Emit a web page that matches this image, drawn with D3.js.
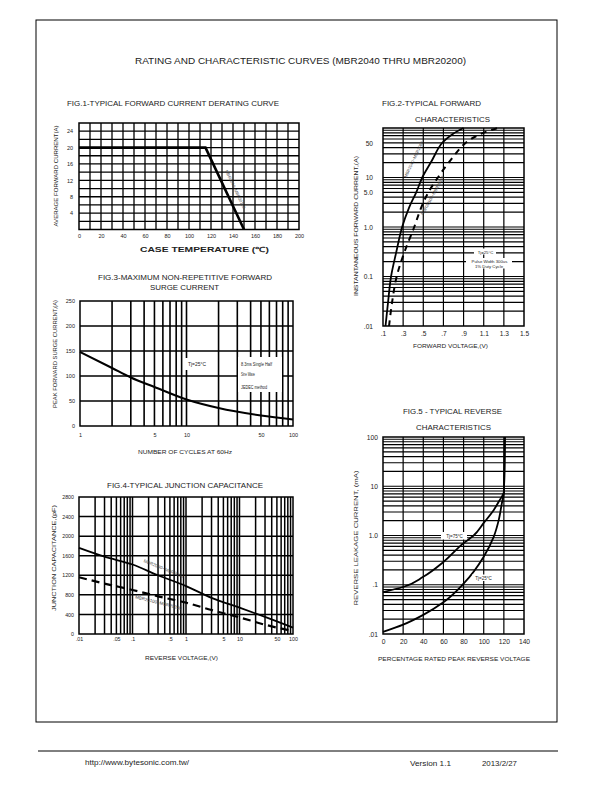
<!DOCTYPE html>
<html><head><meta charset="utf-8">
<script src="https://cdn.jsdelivr.net/npm/d3@7"></script>
<style>
html,body{margin:0;padding:0;background:#fff;}
svg{display:block;font-family:"Liberation Sans",Arial,sans-serif;}
</style></head><body>
<svg id="page" width="612" height="792"></svg>
<script>
// ---------------- DATA ----------------
// Fig.1 derating
const fig1Temp = [0, 115, 150];
const fig1Current = [20, 20, 0];
const fig1XTicks = [0,20,40,60,80,100,120,140,160,180,200];
const fig1YTicks = [4,8,12,16,20,24];
// Fig.2 forward characteristics
const fig2VoltA = [0.125,0.15,0.18,0.23,0.29,0.36,0.43,0.49,0.58,0.68,0.79,0.9];
const fig2CurrA = [0.01,0.03,0.1,0.3,1,2.5,5,10,21,48,75,100];
const fig2VoltB = [0.16,0.19,0.236,0.31,0.41,0.48,0.55,0.645,0.76,0.92,1.07,1.24];
const fig2CurrB = [0.01,0.03,0.1,0.3,1,2.5,5,10,21,50,76,100];
const fig2XTicks = [0.1,0.3,0.5,0.7,0.9,1.1,1.3,1.5];
const fig2XLabels = [".1",".3",".5",".7",".9","1.1","1.3","1.5"];
const fig2YTicks = [0.01,0.1,1,5,10,50];
const fig2YLabels = [".01","0.1","1.0","5.0","10","50"];
// Fig.3 surge current
const fig3Cycles = [1,2,3,5,10,20,50,100];
const fig3Surge = [148,116,97,78,53,36,21,13];
const fig3XTicks = [1,5,10,50,100];
const fig3XLabels = ["1","5","10","50","100"];
const fig3YTicks = [0,50,100,150,200,250];
// Fig.4 junction capacitance
const fig4Volt = [0.01,0.03,0.1,0.3,1,3,10,30,100];
const fig4CapA = [1760,1580,1420,1200,980,740,540,350,130];
const fig4CapB = [1160,1030,900,770,640,490,340,190,60];
const fig4XTicks = [0.01,0.05,0.1,0.5,1,5,10,50,100];
const fig4XLabels = [".01",".05",".1",".5","1","5","10","50","100"];
const fig4YTicks = [0,400,800,1200,1600,2000,2400,2800];
// Fig.5 reverse characteristics
const fig5Pct75 = [0,20,40,60,80,90,100,110,116,120,121];
const fig5Ir75 = [0.071,0.09,0.145,0.29,0.7,1.0,1.8,3.3,5.3,7.5,100];
const fig5Pct25 = [0,20,40,60,80,100,110,115,118,120,121];
const fig5Ir25 = [0.011,0.0155,0.0245,0.044,0.105,0.37,0.95,2.1,4.5,7.5,100];
const fig5XTicks = [0,20,40,60,80,100,120,140];
const fig5YTicks = [0.01,0.1,1,10,100];
const fig5YLabels = [".01",".1","1.0","10","100"];

// ---------------- HELPERS ----------------
const svg = d3.select("#page");
const TXT = "#222";

function label(g, t, x, y, o = {}) {
  const el = g.append("text").attr("x", x).attr("y", y).text(t)
    .attr("font-size", o.fs || 7).attr("fill", o.fill || TXT)
    .attr("text-anchor", o.anchor || "start");
  if (o.len) el.attr("textLength", o.len).attr("lengthAdjust", "spacingAndGlyphs");
  if (o.weight) el.attr("font-weight", o.weight);
  if (o.rot != null) el.attr("transform", `rotate(${o.rot},${x},${y})`);
  return el;
}

function grid(g, x, y, xVals, yVals, w) {
  const [x0, x1] = x.range(), [y0, y1] = y.range();
  g.append("g").selectAll("line").data(xVals).join("line")
    .attr("x1", d => x(d)).attr("x2", d => x(d)).attr("y1", y0).attr("y2", y1)
    .attr("stroke", "#000").attr("stroke-width", w);
  g.append("g").selectAll("line").data(yVals).join("line")
    .attr("y1", d => y(d)).attr("y2", d => y(d)).attr("x1", x0).attr("x2", x1)
    .attr("stroke", "#000").attr("stroke-width", w);
  g.append("rect").attr("x", x0).attr("y", y1).attr("width", x1 - x0).attr("height", y0 - y1)
    .attr("fill", "none").attr("stroke", "#000").attr("stroke-width", 1.5);
}

function axes(g, x, y, o) {
  const [x0] = x.range(), [y0] = y.range();
  const ax = d3.axisBottom(x).tickValues(o.xt).tickSize(0).tickPadding(o.xp)
    .tickFormat((d, i) => o.xl ? o.xl[i] : d);
  const ay = d3.axisLeft(y).tickValues(o.yt).tickSize(0).tickPadding(o.yp)
    .tickFormat((d, i) => o.yl ? o.yl[i] : d);
  const gx = g.append("g").attr("transform", `translate(0,${y0})`).call(ax);
  const gy = g.append("g").attr("transform", `translate(${x0},0)`).call(ay);
  [gx, gy].forEach(a => {
    a.select(".domain").remove();
    a.attr("font-family", null).attr("font-size", null);
    a.selectAll("text").attr("font-size", o.fs).attr("fill", TXT);
  });
}

function whiteBox(g, x, y, w, h) {
  g.append("rect").attr("x", x).attr("y", y).attr("width", w).attr("height", h).attr("fill", "#fff");
}

function logGrid(s) { return s.ticks(); }

// ---------------- PAGE ----------------
svg.append("rect").attr("x", 36).attr("y", 20).attr("width", 521).attr("height", 702)
  .attr("fill", "none").attr("stroke", "#000").attr("stroke-width", 1);
label(svg, "RATING AND CHARACTERISTIC CURVES (MBR2040 THRU MBR20200)", 135, 64, {fs: 9.5, len: 331});
svg.append("line").attr("x1", 38).attr("x2", 558).attr("y1", 751).attr("y2", 751)
  .attr("stroke", "#000").attr("stroke-width", 1);
label(svg, "http://www.bytesonic.com.tw/", 85, 765, {fs: 6.5, len: 104});
label(svg, "Version 1.1", 410, 766, {fs: 7, len: 41});
label(svg, "2013/2/27", 482, 766, {fs: 7, len: 35});

// ---------------- FIG 1 ----------------
{
  const g = svg.append("g");
  const x = d3.scaleLinear().domain([0, 200]).range([79, 299]);
  const y = d3.scaleLinear().domain([0, 26]).range([229.5, 123]);
  grid(g, x, y, d3.range(10, 200, 10), d3.range(2, 26, 2), 1.3);
  axes(g, x, y, {xt: fig1XTicks, yt: fig1YTicks, xp: 4.8, yp: 6, fs: 5.5});
  const pts = fig1Temp.map((t, i) => [x(t), y(fig1Current[i])]);
  g.append("path").attr("d", d3.line()(pts)).attr("fill", "none")
    .attr("stroke", "#000").attr("stroke-width", 2.6);
  label(g, "MBR2040~MBR20200", 234, 190, {fs: 4.2, anchor: "middle", rot: 65, fill: "#444"});
  label(g, "FIG.1-TYPICAL FORWARD CURRENT DERATING CURVE", 67, 106, {fs: 7.5, len: 212});
  label(g, "CASE  TEMPERATURE (\u2103)", 140, 252, {fs: 7, len: 129, weight: "bold"});
  label(g, "AVERAGE FORWARD CURRENT(A)", 58, 176, {fs: 5.5, anchor: "middle", rot: -90, len: 101});
}

// ---------------- FIG 2 ----------------
{
  const g = svg.append("g");
  const x = d3.scaleLinear().domain([0.1, 1.5]).range([383, 524]);
  const y = d3.scaleLog().domain([0.01, 100]).range([326, 128]);
  grid(g, x, y, fig2XTicks.slice(1, -1), logGrid(y).filter(v => v > 0.0101 && v < 99), 1.2);
  axes(g, x, y, {xt: fig2XTicks, xl: fig2XLabels, yt: fig2YTicks, yl: fig2YLabels, xp: 5.3, yp: 10, fs: 6.6});
  const line = d3.line().curve(d3.curveCatmullRom.alpha(0.5));
  const ptsA = fig2VoltA.map((v, i) => [x(v), y(fig2CurrA[i])]);
  const ptsB = fig2VoltB.map((v, i) => [x(v), y(fig2CurrB[i])]);
  g.append("path").attr("d", line(ptsA)).attr("fill", "none").attr("stroke", "#000").attr("stroke-width", 1.8);
  g.append("path").attr("d", line(ptsB)).attr("fill", "none").attr("stroke", "#000").attr("stroke-width", 2)
    .attr("stroke-dasharray", "6,5");
  label(g, "MBR2040~MBR2060", 415, 160, {fs: 4.2, anchor: "middle", rot: -65, fill: "#444"});
  label(g, "MBR20100~MBR20200", 434, 196, {fs: 4.2, anchor: "middle", rot: -61, fill: "#444"});
  whiteBox(g, 474, 248.5, 22, 6);
  whiteBox(g, 466, 258, 46, 10.5);
  label(g, "Tj=25\u00b0C", 485.5, 253.5, {fs: 4.3, anchor: "middle"});
  label(g, "Pulse Width 300us", 489.5, 263, {fs: 4.3, anchor: "middle"});
  label(g, "1% Duty Cycle", 489, 267.5, {fs: 4.3, anchor: "middle"});
  label(g, "FIG.2-TYPICAL FORWARD", 382, 106, {fs: 7.5, len: 99});
  label(g, "CHARACTERISTICS", 415, 122, {fs: 7.5, len: 75});
  label(g, "FORWARD VOLTAGE,(V)", 413, 348, {fs: 6, len: 75});
  label(g, "INSTANTANEOUS FORWARD CURRENT,(A)", 358, 226, {fs: 5.8, anchor: "middle", rot: -90, len: 140});
}

// ---------------- FIG 3 ----------------
{
  const g = svg.append("g");
  const x = d3.scaleLog().domain([1, 100]).range([80, 293]);
  const y = d3.scaleLinear().domain([0, 250]).range([426, 301]);
  grid(g, x, y, logGrid(x).filter(v => v > 1 && v < 100), [50, 100, 150, 200], 1.6);
  axes(g, x, y, {xt: fig3XTicks, xl: fig3XLabels, yt: fig3YTicks, xp: 7, yp: 5, fs: 5.5});
  const pts = fig3Cycles.map((c, i) => [x(c), y(fig3Surge[i])]);
  g.append("path").attr("d", d3.line().curve(d3.curveMonotoneX)(pts)).attr("fill", "none")
    .attr("stroke", "#000").attr("stroke-width", 2);
  whiteBox(g, 184, 358, 27, 12);
  whiteBox(g, 238, 357, 44, 35);
  label(g, "Tj=25\u00b0C", 188, 366, {fs: 4.8, len: 18});
  label(g, "8.3ms Single Half", 241, 366, {fs: 4.8, len: 31});
  label(g, "Sine Wave", 241, 375.5, {fs: 4.8, len: 14});
  label(g, "JEDEC method", 241, 388.5, {fs: 4.8, len: 26});
  label(g, "FIG.3-MAXIMUM NON-REPETITIVE FORWARD", 98, 280, {fs: 7.5, len: 174});
  label(g, "SURGE CURRENT", 150, 290, {fs: 7.5, len: 69});
  label(g, "NUMBER OF CYCLES AT 60Hz", 138, 454, {fs: 6, len: 94});
  label(g, "PEAK FORWARD SURGE CURRENT,(A)", 57, 354, {fs: 6, anchor: "middle", rot: -90, len: 108});
}

// ---------------- FIG 4 ----------------
{
  const g = svg.append("g");
  const x = d3.scaleLog().domain([0.01, 100]).range([79, 293]);
  const y = d3.scaleLinear().domain([0, 2800]).range([634, 497]);
  grid(g, x, y, logGrid(x).filter(v => v > 0.0101 && v < 99), d3.range(400, 2800, 400), 1.5);
  axes(g, x, y, {xt: fig4XTicks, xl: fig4XLabels, yt: fig4YTicks, xp: 3.6, yp: 5, fs: 5.3});
  const line = d3.line().curve(d3.curveMonotoneX);
  const ptsA = fig4Volt.map((v, i) => [x(v), y(fig4CapA[i])]);
  const ptsB = fig4Volt.map((v, i) => [x(v), y(fig4CapB[i])]);
  g.append("path").attr("d", line(ptsA)).attr("fill", "none").attr("stroke", "#000").attr("stroke-width", 1.8);
  g.append("path").attr("d", line(ptsB)).attr("fill", "none").attr("stroke", "#000").attr("stroke-width", 2.2)
    .attr("stroke-dasharray", "8,5");
  label(g, "MBR2040~MBR2060", 163, 570, {fs: 4.5, anchor: "middle", rot: 22, fill: "#444"});
  label(g, "MBR20100~MBR20200", 158, 604, {fs: 4.5, anchor: "middle", rot: 14, fill: "#444"});
  label(g, "FIG.4-TYPICAL JUNCTION CAPACITANCE", 107, 488, {fs: 7.5, len: 156});
  label(g, "REVERSE VOLTAGE,(V)", 145, 660, {fs: 6, len: 73});
  label(g, "JUNCTION CAPACITANCE,(pF)", 56, 558, {fs: 6, anchor: "middle", rot: -90, len: 106});
}

// ---------------- FIG 5 ----------------
{
  const g = svg.append("g");
  const x = d3.scaleLinear().domain([0, 140]).range([383, 524]);
  const y = d3.scaleLog().domain([0.01, 100]).range([634, 437]);
  grid(g, x, y, d3.range(20, 140, 20), logGrid(y).filter(v => v > 0.0101 && v < 99), 1.2);
  axes(g, x, y, {xt: fig5XTicks, yt: fig5YTicks, yl: fig5YLabels, xp: 5.5, yp: 5, fs: 6.7});
  const line = d3.line().curve(d3.curveMonotoneY);
  const p75 = fig5Pct75.map((p, i) => [x(p), y(fig5Ir75[i])]).sort((a, b) => a[1] - b[1]);
  const p25 = fig5Pct25.map((p, i) => [x(p), y(fig5Ir25[i])]).sort((a, b) => a[1] - b[1]);
  g.append("path").attr("d", line(p75)).attr("fill", "none").attr("stroke", "#000").attr("stroke-width", 1.8);
  g.append("path").attr("d", line(p25)).attr("fill", "none").attr("stroke", "#000").attr("stroke-width", 1.8);
  whiteBox(g, 441, 532, 26, 7.5);
  whiteBox(g, 472, 574.5, 23, 6.5);
  label(g, "Tj=75\u00b0C", 454.5, 537.5, {fs: 4.5, anchor: "middle"});
  label(g, "Tj=25\u00b0C", 483.5, 579.5, {fs: 4.5, anchor: "middle"});
  label(g, "FIG.5 - TYPICAL REVERSE", 403, 414, {fs: 7.5, len: 99});
  label(g, "CHARACTERISTICS", 416, 430, {fs: 7.5, len: 75});
  label(g, "PERCENTAGE RATED PEAK REVERSE VOLTAGE", 378, 661, {fs: 6, len: 152});
  label(g, "REVERSE LEAKAGE CURRENT, (mA)", 358, 538, {fs: 6, anchor: "middle", rot: -90, len: 135});
}
</script>
</body></html>
